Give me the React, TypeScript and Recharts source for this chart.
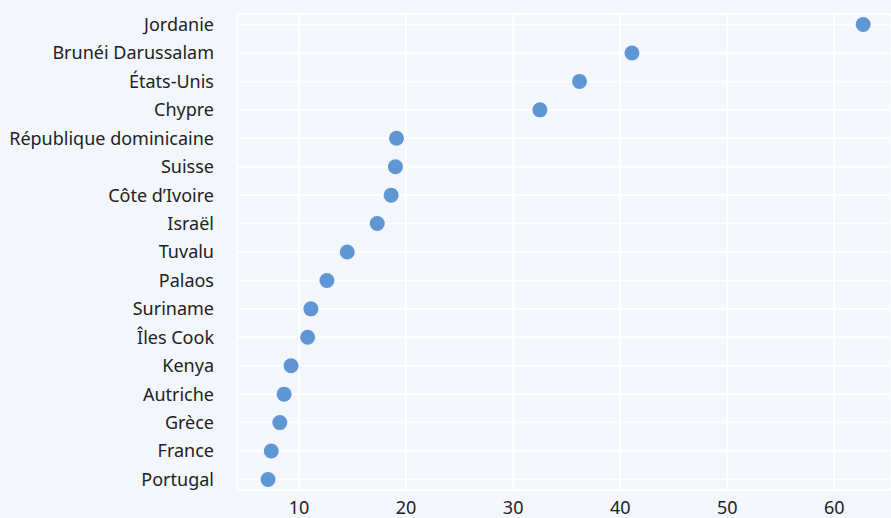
import { ScatterChart, Scatter, XAxis, YAxis, CartesianGrid } from "recharts";

const countries = [
  "Jordanie",
  "Brunéi Darussalam",
  "États-Unis",
  "Chypre",
  "République dominicaine",
  "Suisse",
  "Côte d’Ivoire",
  "Israël",
  "Tuvalu",
  "Palaos",
  "Suriname",
  "Îles Cook",
  "Kenya",
  "Autriche",
  "Grèce",
  "France",
  "Portugal",
];

const values = [62.7, 41.1, 36.2, 32.5, 19.1, 19.0, 18.6, 17.3, 14.5, 12.6, 11.1, 10.8, 9.25, 8.6, 8.2, 7.4, 7.1];

const xTicks = [10, 20, 30, 40, 50, 60];

const BG = "#f3f7fb";
const DOT = "#5f97d5";
const TEXT = "#222222";

const data = countries.map((name, i) => ({ name, idx: i, value: values[i] }));
const yTicks = countries.map((_, i) => i);

const Dot = (props: any) => (
  <circle cx={props.cx} cy={props.cy} r={7.5} fill={DOT} />
);

export default function App() {
  return (
    <div
      style={{
        position: "fixed",
        left: 0,
        top: 0,
        width: 891,
        height: 518,
        background: BG,
        fontFamily: "'Noto Sans', sans-serif",
      }}
    >
      <ScatterChart
        width={891}
        height={518}
        margin={{ top: 14, right: 0, bottom: 0, left: 0 }}
      >
        <CartesianGrid stroke="#ffffff" strokeWidth={1.5} />
        <XAxis
          type="number"
          dataKey="value"
          domain={[4.2, 65.3]}
          ticks={xTicks}
          allowDataOverflow
          axisLine={false}
          tickLine={false}
          tickSize={0}
          tickMargin={11}
          height={28}
          tick={{ fill: TEXT, fontSize: 18 }}
        />
        <YAxis
          type="number"
          dataKey="idx"
          domain={[-0.37, 16.37]}
          ticks={yTicks}
          reversed
          interval={0}
          allowDataOverflow
          axisLine={false}
          tickLine={false}
          tickSize={0}
          tickMargin={23}
          width={237}
          tickFormatter={(v: number) => countries[v] ?? ""}
          tick={{ fill: TEXT, fontSize: 18 }}
        />
        <Scatter data={data} shape={Dot} isAnimationActive={false} />
      </ScatterChart>
    </div>
  );
}
